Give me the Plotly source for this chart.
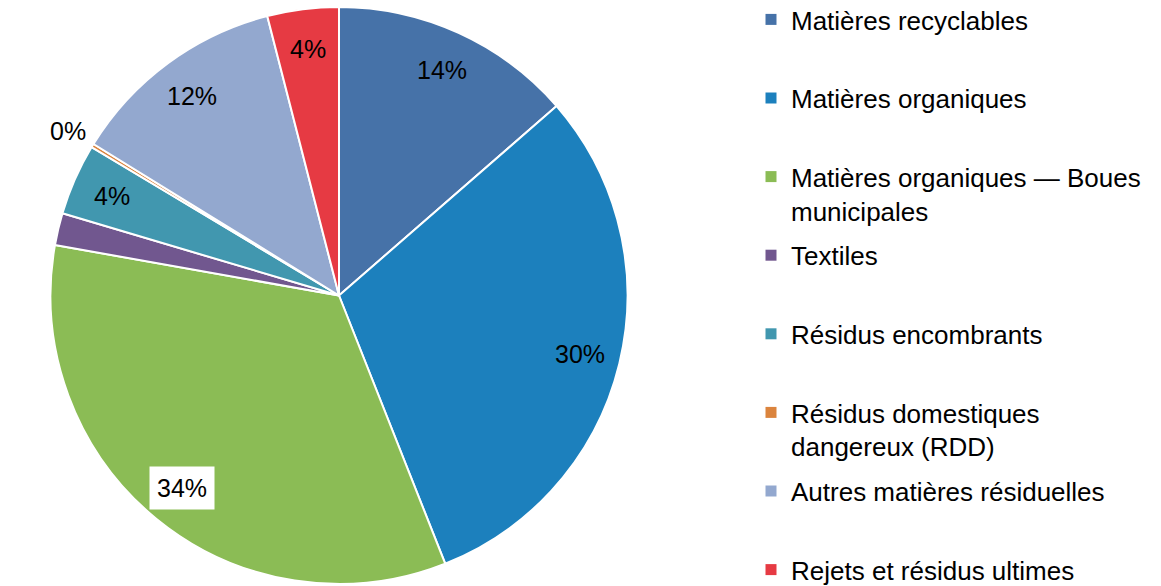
import math
import plotly.graph_objects as go

# ---- data ----
categories = [
    "Matières recyclables",
    "Matières organiques",
    "Matières organiques — Boues municipales",
    "Textiles",
    "Résidus encombrants",
    "Résidus domestiques dangereux (RDD)",
    "Autres matières résiduelles",
    "Rejets et résidus ultimes",
]
legend_labels = [
    "Matières recyclables",
    "Matières organiques",
    "Matières organiques — Boues<br>municipales",
    "Textiles",
    "Résidus encombrants",
    "Résidus domestiques<br>dangereux (RDD)",
    "Autres matières résiduelles",
    "Rejets et résidus ultimes",
]
values = [13.6, 30.4, 33.8, 1.8, 4.0, 0.2, 12.2, 4.0]

# ---- style ----
colors = ["#4672A8", "#1C80BD", "#8BBC55", "#71578F",
          "#4197AF", "#DB843D", "#93A8CF", "#E63A43"]
boxed_label = "Matières organiques — Boues municipales"
FONT = "Liberation Sans, Arial, sans-serif"

SHIFT = 4                      # page is shifted up by this many px
W, H = 1161, 586 + SHIFT
MT, MB = 7 + SHIFT, 2
plot_h = H - MT - MB
dom_w = plot_h / W
cx_px = 339
x0 = cx_px / W - dom_w / 2
dom_x = [x0, x0 + dom_w]

fig = go.Figure()
fig.add_trace(go.Pie(
    labels=categories, values=values, sort=False, direction="clockwise",
    rotation=0, textinfo="none", showlegend=False,
    marker=dict(colors=colors, line=dict(color="white", width=2)),
    domain=dict(x=dom_x, y=[0, 1]), hoverinfo="label+percent",
))

# legend entries (padded to equal heights, except the last one)
n = len(legend_labels)
for i, (lab, col, cat) in enumerate(zip(legend_labels, colors, categories)):
    txt = lab if ("<br>" in lab or i == n - 1) else lab + "<br>\u00a0"
    fig.add_trace(go.Scatter(
        x=[None], y=[None], mode="markers", name=txt, legendgroup=cat,
        marker=dict(symbol="square", size=11, color=col),
        showlegend=True, hoverinfo="skip",
    ))

# percentage labels
total = sum(values)
cum = 0.0
annotations = []
for cat, v in zip(categories, values):
    share = v / total
    mid = (cum + share / 2) * 2 * math.pi
    cum += share
    r = 1.10 if share < 0.03 else 0.86
    ann = dict(
        x=r * math.sin(mid), y=r * math.cos(mid), xref="x", yref="y",
        text=f"{round(share * 100)}%", showarrow=False,
        font=dict(family=FONT, size=25, color="black"),
        xanchor="center", yanchor="middle",
    )
    if cat == boxed_label:
        ann.update(bgcolor="white", borderpad=7)
    annotations.append(ann)

fig.update_layout(
    width=W, height=H,
    margin=dict(l=0, r=0, t=MT, b=MB),
    paper_bgcolor="white", plot_bgcolor="white",
    font=dict(family=FONT, size=26, color="black"),
    xaxis=dict(domain=dom_x, range=[-1, 1], visible=False, fixedrange=True),
    yaxis=dict(domain=[0, 1], range=[-1, 1], visible=False, fixedrange=True),
    annotations=annotations,
    legend=dict(
        x=751 / W, y=1 + MT / plot_h, xanchor="left", yanchor="top",
        font=dict(family=FONT, size=26, color="black"),
        valign="top", tracegroupgap=8, traceorder="grouped",
        bgcolor="rgba(0,0,0,0)", itemwidth=30, maxheight=2000,
    ),
    showlegend=True,
)

fig.write_html(
    "out.html",
    config={"displayModeBar": False},
    post_script=(
        "document.body.style.margin='0';document.body.style.padding='0';"
        f"document.body.style.marginTop='-{SHIFT}px';"
        "document.body.style.overflow='hidden';"
    ),
)
